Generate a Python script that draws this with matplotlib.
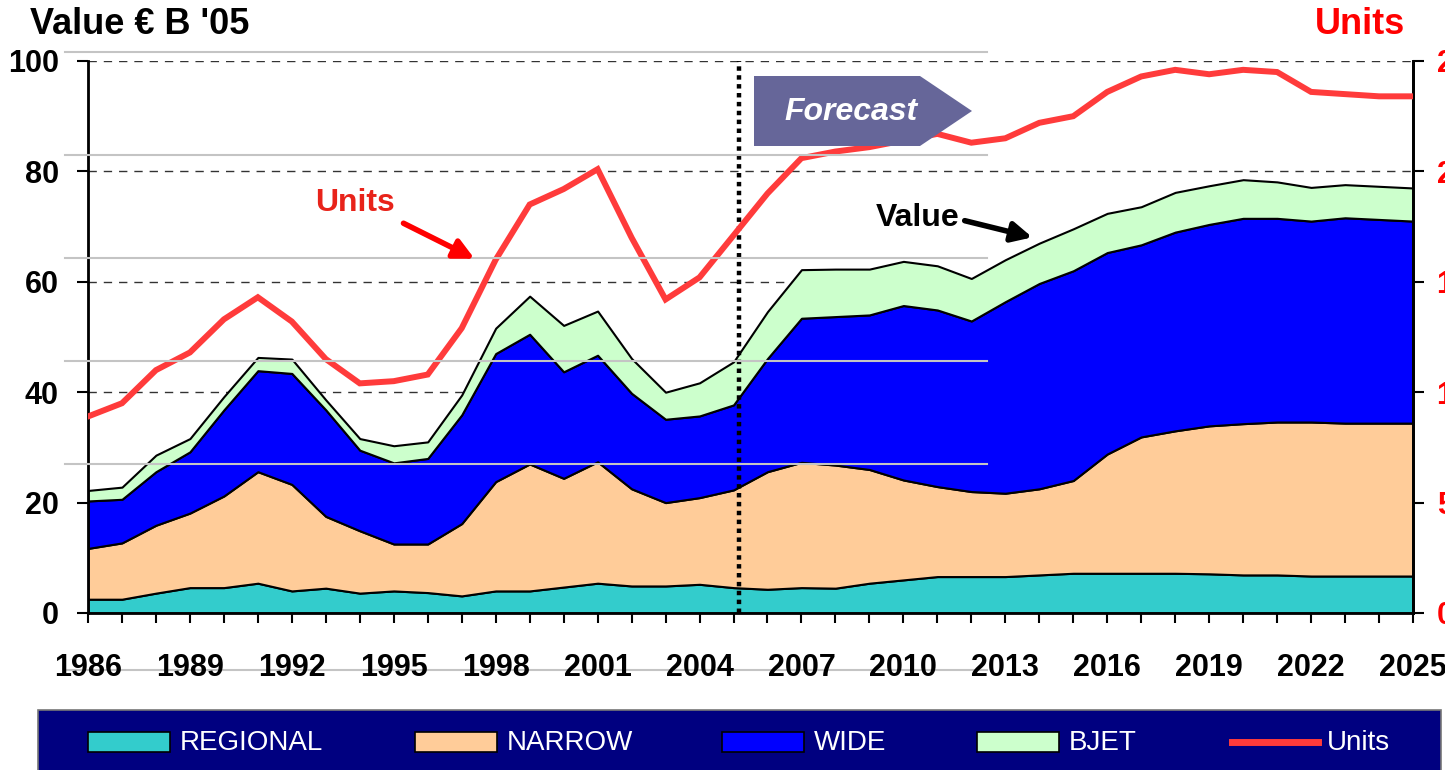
import numpy as np
import matplotlib
matplotlib.use("Agg")
import matplotlib.pyplot as plt
from matplotlib.patches import Rectangle, Polygon, FancyArrowPatch
from matplotlib.lines import Line2D

W, H = 1445, 770

years = list(range(1986, 2026))
# cumulative tops of each stacked layer (left axis, EUR B '05)
regional_top = [2.5, 2.5, 3.6, 4.6, 4.6, 5.4, 4.0, 4.5, 3.6, 4.0,
                3.7, 3.1, 4.0, 4.0, 4.7, 5.4, 4.9, 4.9, 5.2, 4.6,
                4.3, 4.6, 4.5, 5.4, 6.0, 6.6, 6.6, 6.6, 6.9, 7.2,
                7.2, 7.2, 7.2, 7.1, 6.9, 6.9, 6.7, 6.7, 6.7, 6.7]
narrow_top = [11.7, 12.7, 15.9, 18.1, 21.2, 25.6, 23.3, 17.5, 14.9, 12.5,
              12.5, 16.2, 23.8, 27.0, 24.4, 27.4, 22.5, 20.0, 20.9, 22.3,
              25.6, 27.3, 26.8, 26.0, 24.1, 22.9, 22.0, 21.7, 22.5, 24.0,
              28.8, 31.9, 33.0, 33.9, 34.3, 34.6, 34.6, 34.4, 34.4, 34.4]
wide_top = [20.3, 20.6, 25.6, 29.2, 36.8, 43.9, 43.4, 36.8, 29.5, 27.2,
            28.0, 35.9, 47.0, 50.5, 43.7, 46.7, 39.8, 35.1, 35.7, 37.7,
            46.1, 53.4, 53.7, 54.0, 55.7, 54.9, 52.9, 56.4, 59.7, 62.0,
            65.3, 66.7, 69.0, 70.4, 71.5, 71.5, 71.0, 71.6, 71.3, 71.0]
bjet_top = [22.2, 22.8, 28.6, 31.6, 39.2, 46.3, 46.0, 38.6, 31.6, 30.3,
            31.0, 39.5, 51.6, 57.4, 52.1, 54.7, 46.1, 40.0, 41.7, 45.5,
            54.6, 62.2, 62.3, 62.3, 63.7, 62.9, 60.6, 64.0, 67.0, 69.6,
            72.4, 73.6, 76.2, 77.4, 78.5, 78.1, 77.1, 77.6, 77.3, 77.0]
# units (right axis)
units = [89, 95, 110, 118, 133, 143, 132, 115, 104, 105,
         108, 129, 160, 185, 192, 201, 170, 142, 152, 171,
         190, 206, 209, 211, 214, 217, 213, 215, 222, 225,
         236, 243, 246, 244, 246, 245, 236, 235, 234, 234]

labels = ["REGIONAL", "NARROW", "WIDE", "BJET"]
colors = ["#33CCCC", "#FFCC99", "#0000FF", "#CCFFCC"]
units_color = "#FF3B3B"
forecast_start = 2005.15

left_ticks = [0, 20, 40, 60, 80, 100]
right_ticks = [0, 50, 100, 150, 200, 250]
label_years = list(range(1986, 2026, 3))


def fx(px):
    return px / W


def fy(py):
    return 1 - py / H


sans = ["Liberation Sans", "DejaVu Sans"]
narrow_font = ["Liberation Sans Narrow", "Liberation Sans", "DejaVu Sans"]

fig = plt.figure(figsize=(W / 100, H / 100), dpi=100)

ax = fig.add_axes([fx(88), fy(613), fx(1413) - fx(88), fy(61) - fy(613)])
ax.patch.set_alpha(0)

tops = [regional_top, narrow_top, wide_top, bjet_top]
base = np.zeros(len(years))
for top, c in zip(tops, colors):
    ax.fill_between(years, base, top, facecolor=c, edgecolor="black", lw=1.5, zorder=2)
    base = np.array(top)

for v in left_ticks[1:]:
    ax.axhline(v, color="#333333", lw=1, ls=(0, (6, 5)), zorder=1)

ax.axvline(forecast_start, color="black", lw=3.2, ls=(0, (1, 1)), zorder=4)

ax.set_xlim(1986, 2025)
ax.set_ylim(0, 100)
ax.set_xticks(years)
ax.set_xticklabels([str(y) if y in label_years else "" for y in years])
ax.set_yticks(left_ticks)
ax.tick_params(axis="x", direction="out", length=7, width=1.5, pad=22, labelsize=22)
ax.tick_params(axis="y", direction="out", length=8, width=1.5, pad=13, labelsize=22)
for lab in ax.get_xticklabels() + ax.get_yticklabels():
    lab.set_fontfamily(sans)
    lab.set_fontweight("bold")
ax.spines["top"].set_visible(False)
for s in ["left", "bottom", "right"]:
    ax.spines[s].set_linewidth(2)

ax2 = ax.twinx()
ax2.plot(years, units, color=units_color, lw=4.3, zorder=5, solid_joinstyle="miter")
ax2.set_ylim(0, 250)
ax2.set_yticks(right_ticks)
ax2.tick_params(axis="y", direction="out", length=8, width=1.5, pad=9, labelsize=22,
                labelcolor="#FF0000")
for lab in ax2.get_yticklabels():
    lab.set_fontfamily(sans)
    lab.set_fontweight("bold")
ax2.spines["top"].set_visible(False)
ax2.spines["right"].set_linewidth(2)

# faint slide table lines crossing the chart (the lowest one sits behind the year labels)
for py in [52, 155, 258, 361, 464]:
    fig.add_artist(Line2D([fx(65), fx(987)], [fy(py), fy(py)], color="#C4C4C4", lw=1.5, zorder=1.5))
fig.add_artist(Line2D([fx(65), fx(987)], [fy(670), fy(670)], color="#C4C4C4", lw=1.5, zorder=-1))

# titles
fig.text(fx(30), fy(24), "Value \u20ac B '05", fontsize=26, fontweight="bold",
         family=sans, va="center", ha="left")
fig.text(fx(1360), fy(24), "Units", fontsize=26, fontweight="bold", color="#FF0000",
         family=sans, va="center", ha="center")

# forecast arrow box
pts = [(754, 76), (920, 76), (972, 111), (920, 146), (754, 146)]
fig.add_artist(Polygon([(fx(x), fy(y)) for x, y in pts], closed=True,
                       facecolor="#666699", edgecolor="none", zorder=6))
fig.text(fx(851), fy(112), "Forecast", fontsize=23, fontweight="bold", style="italic",
         color="white", family=sans, ha="center", va="center", zorder=7)

# annotations
fig.text(fx(355), fy(203), "Units", fontsize=23, fontweight="bold", color="#E8231A",
         family=sans, ha="center", va="center")
fig.add_artist(FancyArrowPatch((fx(401), fy(222)), (fx(477), fy(260)),
                               arrowstyle="-|>,head_length=12,head_width=6",
                               color="#FF0000", lw=4, mutation_scale=1, zorder=6))
fig.text(fx(918), fy(218), "Value", fontsize=23, fontweight="bold", color="black",
         family=sans, ha="center", va="center")
fig.add_artist(FancyArrowPatch((fx(962), fy(220)), (fx(1035), fy(238)),
                               arrowstyle="-|>,head_length=12,head_width=6",
                               color="black", lw=4, mutation_scale=1, zorder=6))

# legend bar
fig.add_artist(Rectangle((fx(38), fy(771)), fx(1441) - fx(38), fy(710) - fy(771),
                         facecolor="#000080", edgecolor="#777777", lw=1.2, zorder=3))
swatch_x = [88, 415, 722, 977]
for x, lab, c in zip(swatch_x, labels, colors):
    fig.add_artist(Rectangle((fx(x), fy(752)), fx(82), fy(732) - fy(752),
                             facecolor=c, edgecolor="black", lw=1.2, zorder=4))
    fig.text(fx(x + 92), fy(743), lab, fontsize=20, color="white", family=narrow_font,
             ha="left", va="center", zorder=5)
fig.add_artist(Line2D([fx(1232), fx(1318)], [fy(742), fy(742)], color=units_color, lw=5, zorder=4))
fig.text(fx(1327), fy(743), "Units", fontsize=20, color="white", family=narrow_font,
         ha="left", va="center", zorder=5)

fig.savefig("out.png", dpi=100)
